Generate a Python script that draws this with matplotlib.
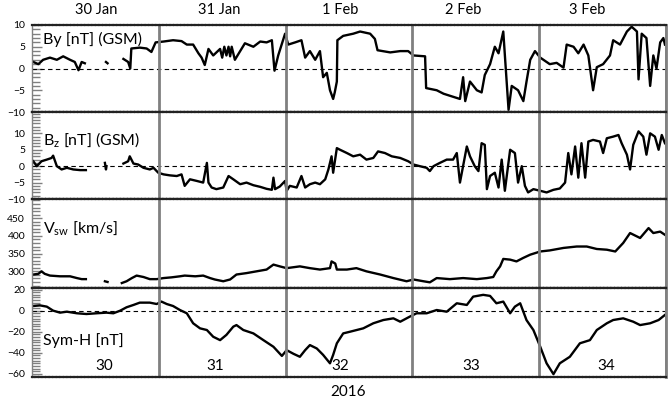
import numpy as np
import matplotlib
matplotlib.use("Agg")
import matplotlib.pyplot as plt
from matplotlib.ticker import MultipleLocator

plt.rcParams['font.family'] = ['Lato', 'DejaVu Sans']
plt.rcParams['mathtext.fontset'] = 'custom'
plt.rcParams['mathtext.rm'] = 'Lato'
plt.rcParams['mathtext.it'] = 'Lato'

nan = np.nan

# ---- data: hours since 30 Jan 2016 00:00 UT ----
by_t = [0.25, 1.2, 2.1, 3.4, 4.7, 5.9, 7.2, 8.1, 8.8, 9.4, 10.0, nan, 14.0, 14.3, nan,
        17.3, 18.2, 18.6, 18.8, 20.4, 21.7, 22.6, 23.4, 24.9, 26.7, 28.3, 29.3, 30.5,
        31.5, 32.1, 32.7, 33.4, 34.3, 35.6, 36.0, 36.4, 36.8, 37.2, 37.5, 37.8, 38.4,
        39.4, 40.3, 41.9, 43.2, 44.4, 45.4, 45.9, 46.6, 47.9, 48.5, 49.8, 51.0, 51.7,
        52.6, 53.6, 54.5, 55.1, 55.8, 56.4, 57.0, 57.3, 57.7, 57.8, 58.9, 60.8, 62.1,
        64.0, 64.9, 65.4, 67.8, 69.7, 71.2, 72.2, 74.4, 74.6, 76.6, 77.9, 79.7, 81.0,
        81.6, 82.0, 82.9, 84.2, 85.1, 85.7, 86.7, 87.6, 88.3, 89.2, 89.7, 90.2, 90.8,
        92.0, 93.0, 93.6, 94.3, 95.2, 96.2, 98.0, 99.3, 100.6, 101.2, 102.5, 103.4,
        104.4, 105.3, 106.2, 106.9, 108.1, 109.4, 110.0, 111.3, 112.6, 113.5, 114.5,
        114.8, 115.4, 116.3, 117.0, 117.6, 118.2, 118.9, 119.5, 119.8]
by_v = [1.5, 1.0, 2.0, 2.5, 2.0, 2.8, 2.0, 1.5, -0.4, 1.5, 1.2, nan, 1.5, 1.2, nan,
        2.2, 1.5, 0.0, 4.6, 4.8, 4.6, 3.8, 6.0, 6.2, 6.5, 6.3, 5.5, 5.5,
        3.5, 2.5, 0.8, 4.5, 3.0, 4.5, 2.5, 5.0, 3.0, 5.0, 2.8, 5.0, 2.0,
        4.0, 5.8, 5.0, 6.2, 6.0, 6.5, -0.5, 3.0, 8.0, 5.5, 6.0, 6.5, 2.5,
        4.0, 2.0, 4.0, -2.0, -1.0, -5.0, -7.0, -5.5, -3.0, 6.5, 7.5, 8.0, 8.5,
        8.0, 6.8, 4.2, 3.7, 4.0, 4.0, 3.0, 2.8, -4.5, -5.0, -5.8, -6.5, -7.0,
        -2.0, -7.5, -3.0, -5.0, -5.5, -1.5, 1.0, 5.0, 3.5, 8.5, -0.5, -9.5, -4.0,
        -5.0, -7.5, -3.0, 2.0, 4.0, 2.5, 1.0, 1.3, 0.2, 5.5, 5.0, 3.5,
        5.5, 3.0, -5.0, 0.3, 1.0, 3.0, 6.5, 5.5, 8.5, 9.6, 8.5,
        -2.5, 8.0, 7.0, -4.0, 3.0, 0.0, 6.0, 7.0, 5.5]

bz_t = [0.25, 0.9, 1.8, 2.8, 3.7, 4.0, 4.7, 5.6, 6.6, 7.8, 9.1, 10.2, nan, 13.8, 14.0,
        14.1, nan, 17.3, 18.2, 18.5, 19.2, 20.1, 21.1, 22.3, 23.0, 23.9, 24.9, 26.1,
        27.4, 28.3, 28.9, 29.9, 31.2, 32.4, 33.1, 33.4, 34.0, 34.9, 36.2, 37.2, 38.1,
        39.4, 40.6, 41.9, 43.2, 44.4, 45.4, 45.7, 46.0, 46.9, 47.9, 48.2, 48.8, 50.1,
        51.0, 51.7, 52.6, 53.6, 54.5, 55.5, 56.1, 56.7, 57.0, 57.7, 58.3, 59.6, 60.8,
        62.1, 63.3, 64.6, 65.5, 66.8, 68.1, 69.7, 71.2, 72.2, 73.4, 74.7, 75.3, 76.0,
        77.2, 78.5, 79.7, 80.4, 81.0, 81.6, 82.3, 82.9, 83.8, 84.5, 85.1, 85.7, 86.1,
        86.7, 87.6, 88.3, 88.9, 89.5, 90.5, 91.4, 92.0, 92.7, 93.3, 93.9, 94.9, 96.2,
        97.4, 98.7, 99.9, 100.9, 101.5, 102.1, 102.8, 103.4, 104.0, 104.7, 105.3,
        106.2, 107.5, 108.1, 108.8, 110.0, 111.0, 111.6, 112.6, 113.2, 113.8, 114.8,
        115.7, 116.3, 117.0, 117.9, 118.6, 119.2, 119.8]
bz_v = [1.5, 0.0, 1.5, 2.0, 2.5, 3.2, 0.0, -1.0, -0.5, -1.0, -1.2, -1.2, nan, 1.0, -1.0,
        0.0, nan, 0.8, 1.5, 3.0, 0.8, 0.5, -0.5, -1.0, -0.5, -2.0, -2.5, -2.8,
        -3.0, -2.5, -6.0, -4.0, -4.5, -5.0, 1.0, -5.0, -6.5, -7.0, -6.5, -3.0, -4.0,
        -5.5, -5.0, -5.8, -6.3, -6.9, -7.2, -3.5, -7.0, -6.2, -4.5, -7.5, -6.0, -6.5,
        -3.0, -6.5, -5.5, -5.0, -5.5, -4.0, -1.0, 3.0, -2.0, 5.5, 5.0, 4.0, 3.0,
        3.5, 2.0, 2.5, 4.5, 4.0, 3.0, 2.5, 1.5, 0.5, 0.0, -0.5, -1.5, 0.0,
        1.0, 2.0, 2.0, 4.0, -5.0, 0.0, 6.0, 3.0, 0.0, -1.5, 7.0, 6.5, -7.0,
        -3.0, -2.0, -6.5, 2.0, -7.5, 5.0, 4.0, -5.0, 0.0, -6.0, -8.0, -7.0, -7.5,
        -8.0, -7.2, -6.8, -5.0, 4.0, -2.5, 6.0, -3.5, 7.0, -3.5, 7.5,
        8.0, 7.5, 4.0, 8.5, 9.0, 9.5, 7.0, 3.5, -1.0, 6.5, 10.6,
        9.0, 3.5, 10.0, 9.0, 5.0, 9.5, 7.0]

vsw_t = [0.25, 1.2, 1.8, 2.4, 3.4, 5.3, 7.2, 8.5, 9.4, 10.2, nan, 13.8, 14.3, nan,
         17.0, 17.9, 18.9, 19.8, 21.1, 22.3, 23.6, 24.9, 26.4, 28.0, 28.9, 30.9, 32.4,
         33.7, 34.6, 36.2, 37.5, 38.7, 40.6, 42.5, 44.4, 45.7, 46.9, 48.2, 50.7, 52.6,
         54.5, 56.4, 56.7, 57.4, 57.7, 59.6, 61.4, 63.3, 65.9, 68.4, 70.9, 72.2, 74.1,
         75.3, 76.6, 79.1, 81.6, 84.2, 86.1, 87.3, 87.9, 88.6, 89.2, 90.5, 91.7, 93.0,
         94.3, 96.2, 98.0, 100.6, 103.1, 105.0, 106.9, 108.8, 110.4, 111.9, 113.2,
         115.1, 116.7, 117.6, 118.9, 119.8]
vsw_v = [291, 293, 300, 293, 288, 286, 286, 281, 278, 278, nan, 272, 270, nan,
         267, 272, 281, 288, 284, 278, 278, 281, 283, 286, 288, 286, 288,
         281, 277, 272, 277, 291, 295, 300, 305, 319, 314, 309, 314, 309,
         305, 309, 328, 322, 305, 305, 309, 300, 291, 281, 272, 277, 272,
         269, 281, 278, 281, 278, 281, 284, 300, 314, 335, 333, 328, 338,
         347, 356, 359, 366, 370, 370, 363, 361, 356, 380, 408,
         394, 422, 408, 412, 403]

symh_t = [0.25, 1.5, 2.8, 4.0, 5.3, 6.6, 8.5, 10.3, 12.2, 14.1, 15.4, 16.7, 17.9, 19.2,
          20.4, 22.3, 23.6, 24.5, 25.5, 26.7, 28.0, 29.3, 30.5, 31.8, 33.1, 34.3, 35.6,
          36.8, 38.1, 38.7, 40.0, 41.9, 43.8, 45.7, 47.3, 48.2, 49.5, 50.7, 51.7, 52.6,
          53.9, 55.1, 56.4, 57.0, 57.7, 58.9, 60.2, 62.7, 64.6, 66.5, 68.4, 69.7, 71.5,
          72.8, 74.7, 76.6, 78.5, 80.4, 82.3, 83.5, 85.4, 86.7, 87.9, 89.2, 90.5, 91.4,
          92.4, 93.6, 94.9, 96.2, 97.4, 98.7, 99.9, 101.8, 103.7, 105.6, 106.9, 108.8,
          110.0, 111.9, 113.8, 115.1, 117.0, 118.6, 119.8]
symh_v = [4.4, 5.0, 3.8, 0.0, -1.9, -1.0, -2.5, -3.2, -2.5, -1.9, -2.5, 0.0, 3.2, 5.4,
          7.6, 7.6, 6.3, 8.6, 6.3, 4.4, 0.6, -2.5, -12.0, -16.8, -18.4, -24.8, -28.0,
          -23.0, -15.2, -13.7, -18.4, -21.6, -28.0, -34.3, -43.0, -37.5, -41.0, -43.8, -37.5, -32.7,
          -35.9, -42.0, -50.0, -42.0, -31.0, -21.6, -20.0, -16.8, -12.0, -8.9, -7.3, -10.5, -5.7,
          -2.5, -2.5, 0.6, -1.0, 7.0, 5.4, 13.3, 15.0, 14.0, 7.0, 8.6, -2.5, 3.8,
          7.0, -9.0, -18.4, -34.3, -50.0, -60.3, -50.0, -43.8, -31.0, -28.0, -18.4, -12.0,
          -8.9, -7.3, -10.5, -13.7, -12.0, -8.9, -4.1]

top_labels = ['30 Jan', '31 Jan', '1 Feb', '2 Feb', '3 Feb']
top_label_hours = [12.1, 35.4, 58.3, 81.6, 105.0]
doy_labels = ['30', '31', '32', '33', '34']
doy_label_hours = [13.6, 34.6, 58.3, 83.1, 108.6]
day_bounds = [24, 48, 72, 96, 120]

panels = [
    dict(t=by_t, v=by_v, ylim=(-10, 10), ticks=[-10, -5, 0, 5, 10], minor=1,
         label='By [nT] (GSM)', ly=0.83, zero=True, bottom_labels=False),
    dict(t=bz_t, v=bz_v, ylim=(-10, 16.5), ticks=[-10, -5, 0, 5, 10], minor=1,
         label=r'B$_{\rm z}$ [nT] (GSM)', ly=0.68, zero=True, bottom_labels=False),
    dict(t=vsw_t, v=vsw_v, ylim=(253, 504), ticks=[300, 350, 400, 450], minor=10,
         label=r'V$_{\rm sw}$ [km/s]', ly=0.675, zero=False, bottom_labels=False),
    dict(t=symh_t, v=symh_v, ylim=(-63, 21.5), ticks=[-60, -40, -20, 0, 20], minor=2.5,
         label='Sym-H [nT]', ly=0.415, zero=True, bottom_labels=True),
]

fig = plt.figure(figsize=(6.71, 4.0), dpi=100)
left = 32 / 671
width = 634 / 671
edges = [25, 112, 199, 288, 377]
gray = '#808080'

for i, p in enumerate(panels):
    top_px, bot_px = edges[i], edges[i + 1]
    ax = fig.add_axes([left, 1 - bot_px / 400, width, (bot_px - top_px) / 400])
    ax.plot(p['t'], p['v'], color='black', lw=1.7)
    ax.set_xlim(0, 120)
    ax.set_ylim(*p['ylim'])
    ax.set_yticks(p['ticks'])
    ax.yaxis.set_minor_locator(MultipleLocator(p['minor']))
    ax.tick_params(axis='y', which='both', direction='in', color=gray, width=1.0,
                   labelsize=7.5, pad=5, right=False)
    ax.tick_params(axis='y', which='major', length=7)
    ax.tick_params(axis='y', which='minor', length=6)
    ax.set_xticks([])
    if p['zero']:
        ax.axhline(0, color='black', lw=0.8, ls=(0, (4, 3)))
    for b in day_bounds:
        ax.axvline(b, color=gray, lw=2.0)
    for s in ['top', 'bottom']:
        ax.spines[s].set_linestyle((0, (1, 0.6)))
        ax.spines[s].set_linewidth(1.6)
        ax.spines[s].set_color('#222222')
    ax.spines['left'].set_color(gray)
    ax.spines['left'].set_linewidth(1.0)
    ax.spines['right'].set_color(gray)
    ax.spines['right'].set_linewidth(2.0)
    ax.text(0.017, p['ly'], p['label'], transform=ax.transAxes, fontsize=11.5,
            va='center', ha='left')
    if p['bottom_labels']:
        for lab, h in zip(doy_labels, doy_label_hours):
            ax.text(h, 0.125, lab, transform=ax.get_xaxis_transform(), fontsize=11,
                    ha='center', va='center')
    if i == 0:
        for lab, h in zip(top_labels, top_label_hours):
            ax.text(h, 1 + 15 / 87, lab, transform=ax.get_xaxis_transform(),
                    fontsize=10.5, ha='center', va='center')

fig.text(348 / 671, 1 - 392 / 400, '2016', fontsize=11, ha='center', va='center')

fig.savefig('out.png', dpi=100)
